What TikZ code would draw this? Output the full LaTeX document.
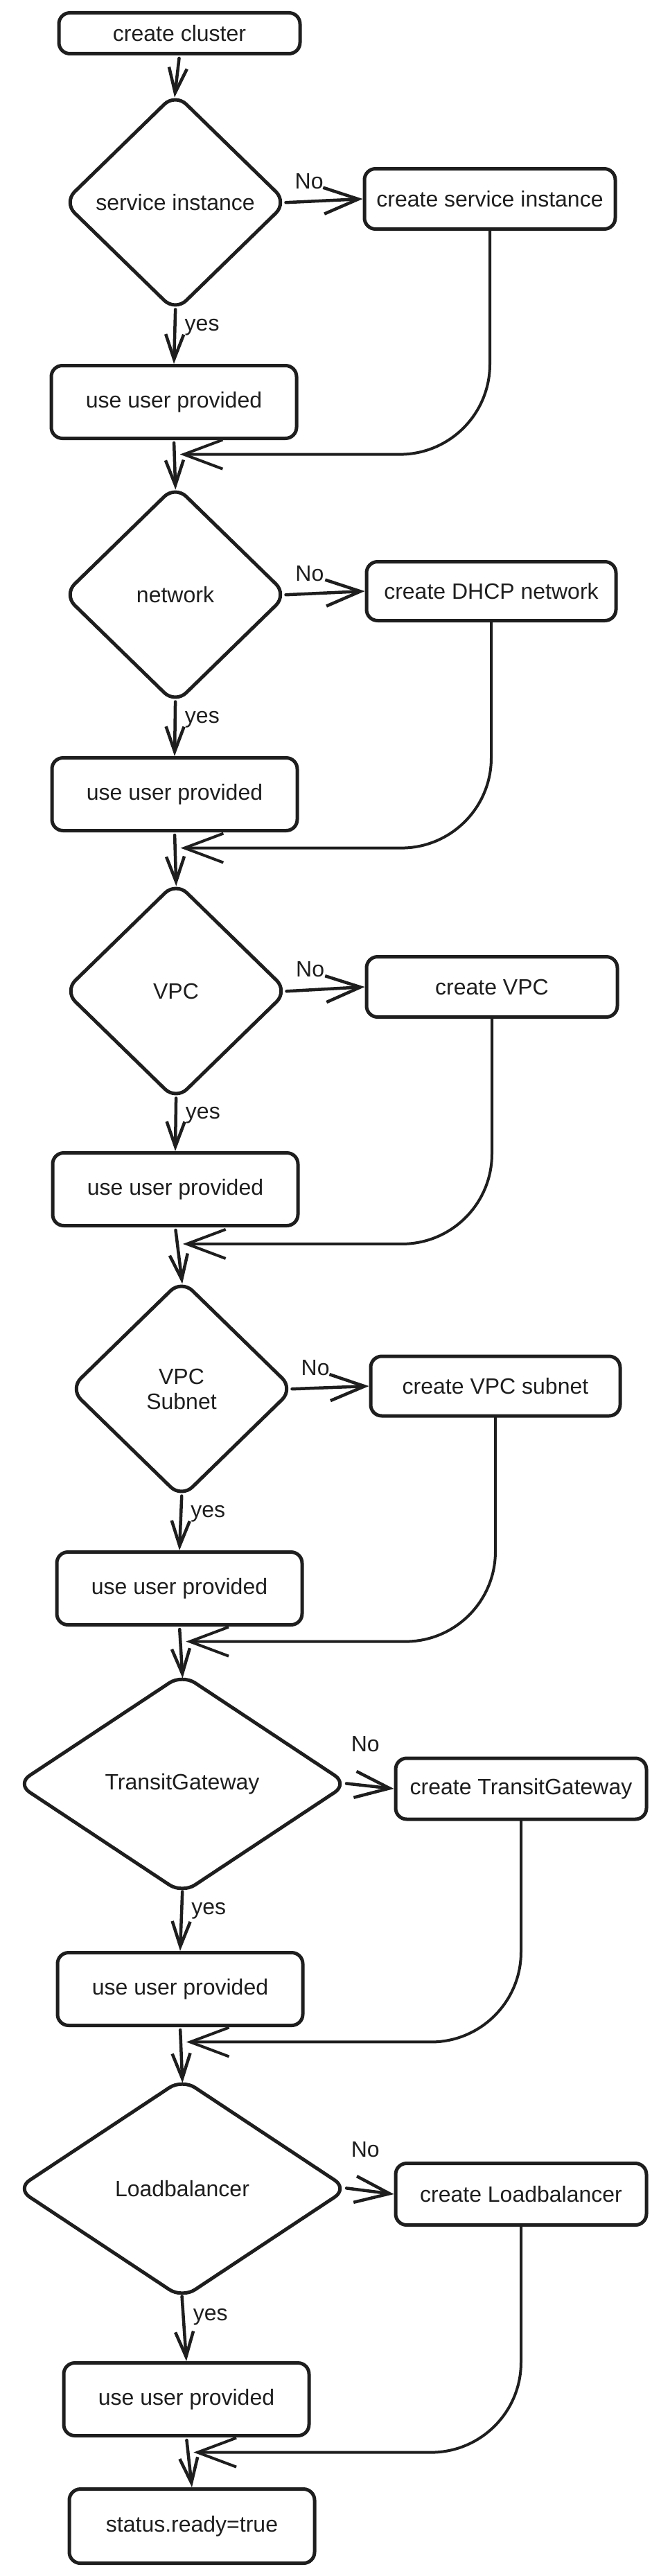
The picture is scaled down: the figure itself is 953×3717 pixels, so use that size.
\documentclass[tikz,border=0pt]{standalone}
\usepackage{fontspec}
\setmainfont{Liberation Sans}
\usetikzlibrary{shapes.geometric,arrows.meta,calc}
\definecolor{ink}{HTML}{1E1E1E}

\begin{document}
\begin{tikzpicture}[x=1pt, y=-1pt, color=ink, line cap=round, line join=round,
    every node/.style={font=\fontsize{32}{36}\selectfont},
    box/.style={draw, line width=5pt, rounded corners=16pt, inner sep=0pt, minimum width=354pt, minimum height=105pt},
    todo/.style={box, minimum width=362pt, minimum height=87pt},
    dia/.style={draw, diamond, line width=5pt, rounded corners=22pt, inner sep=0pt, minimum width=324pt, minimum height=316pt},
    wide/.style={dia, minimum width=479pt, minimum height=318pt},
    arr/.style={line width=4.5pt, shorten <=4pt, shorten >=-9pt, -{Straight Barb[length=36pt,width=26pt]}},
    noarr/.style={line width=4.5pt, shorten <=-5pt, -{Straight Barb[length=50pt,width=38pt]}},
    back/.style={line width=4pt, rounded corners=130pt, -{Straight Barb[length=56pt,width=42pt]}},
    yeslbl/.style={right=10pt, pos=0.27, inner sep=2pt},
    nolbl/.style={above=14pt, pos=0.27, inner sep=2pt}]
    \useasboundingbox (0,0) rectangle (953,3717);
    \node[box, minimum width=348pt, minimum height=59pt] (cluster) at (259,48) {create cluster};
    \node[dia] (si) at (253,292) {service instance};
    \node[todo] (csi) at (707,287) {create service instance};
    \node[box] (uup1) at (251,580) {use user provided};
    \node[dia] (net) at (253,858) {network};
    \node[todo, minimum width=360pt, minimum height=85pt] (cdhcp) at (709,853) {create DHCP network};
    \node[box] (uup2) at (252,1146) {use user provided};
    \node[dia] (vpc) at (254,1430) {VPC};
    \node[todo] (cvpc) at (710,1424) {create VPC};
    \node[box] (uup3) at (253,1716) {use user provided};
    \node[dia, align=center] (sub) at (262,2004) {VPC\\Subnet};
    \node[todo, minimum width=360pt, minimum height=86pt] (csub) at (715,2000) {create VPC subnet};
    \node[box] (uup4) at (259,2292) {use user provided};
    \node[wide] (tgw) at (263,2574) {TransitGateway};
    \node[todo, minimum height=88pt] (ctgw) at (752,2581) {create TransitGateway};
    \node[box] (uup5) at (260,2870) {use user provided};
    \node[wide] (lb) at (263,3158) {Loadbalancer};
    \node[todo, minimum height=89pt] (clb) at (752,3166) {create Loadbalancer};
    \node[box] (uup6) at (269,3462) {use user provided};
    \node[box, minimum height=107pt] (ready) at (277,3645) {status.ready=true};

    \coordinate (j1) at ($(uup1.south)!0.33!(net.north)+(8,0)$);
    \coordinate (j2) at ($(uup2.south)!0.33!(vpc.north)+(8,0)$);
    \coordinate (j3) at ($(uup3.south)!0.33!(sub.north)+(8,0)$);
    \coordinate (j4) at ($(uup4.south)!0.33!(tgw.north)+(8,0)$);
    \coordinate (j5) at ($(uup5.south)!0.3!(lb.north)+(8,0)$);
    \coordinate (j6) at ($(uup6.south)!0.3!(ready.north)+(8,0)$);

    \draw[arr] (cluster.south) -- (si.north);
    \draw[noarr] (si.east) -- node[nolbl] {No} (csi.west);
    \draw[arr, shorten <=-6pt, shorten >=0pt] (si.south) -- node[yeslbl] {yes} (uup1.north);
    \draw[arr] (uup1.south) -- (net.north);
    \draw[back] (csi.south) |- (j1);

    \draw[noarr] (net.east) -- node[nolbl] {No} (cdhcp.west);
    \draw[arr, shorten <=-6pt, shorten >=0pt] (net.south) -- node[yeslbl] {yes} (uup2.north);
    \draw[arr] (uup2.south) -- (vpc.north);
    \draw[back] (cdhcp.south) |- (j2);

    \draw[noarr] (vpc.east) -- node[nolbl] {No} (cvpc.west);
    \draw[arr, shorten <=-6pt, shorten >=0pt] (vpc.south) -- node[yeslbl] {yes} (uup3.north);
    \draw[arr] (uup3.south) -- (sub.north);
    \draw[back] (cvpc.south) |- (j3);

    \draw[noarr] (sub.east) -- node[nolbl] {No} (csub.west);
    \draw[arr, shorten <=-6pt, shorten >=0pt] (sub.south) -- node[yeslbl] {yes} (uup4.north);
    \draw[arr] (uup4.south) -- (tgw.north);
    \draw[back] (csub.south) |- (j4);

    \draw[noarr] (tgw.east) -- node[nolbl, above=30pt, pos=0.35] {No} (ctgw.west);
    \draw[arr, shorten <=-6pt, shorten >=0pt] (tgw.south) -- node[yeslbl] {yes} (uup5.north);
    \draw[arr] (uup5.south) -- (lb.north);
    \draw[back] (ctgw.south) |- (j5);

    \draw[noarr] (lb.east) -- node[nolbl, above=30pt, pos=0.35] {No} (clb.west);
    \draw[arr, shorten <=-6pt, shorten >=0pt] (lb.south) -- node[yeslbl] {yes} (uup6.north);
    \draw[arr, shorten >=0pt] (uup6.south) -- (ready.north);
    \draw[back] (clb.south) |- (j6);
\end{tikzpicture}
\end{document}
